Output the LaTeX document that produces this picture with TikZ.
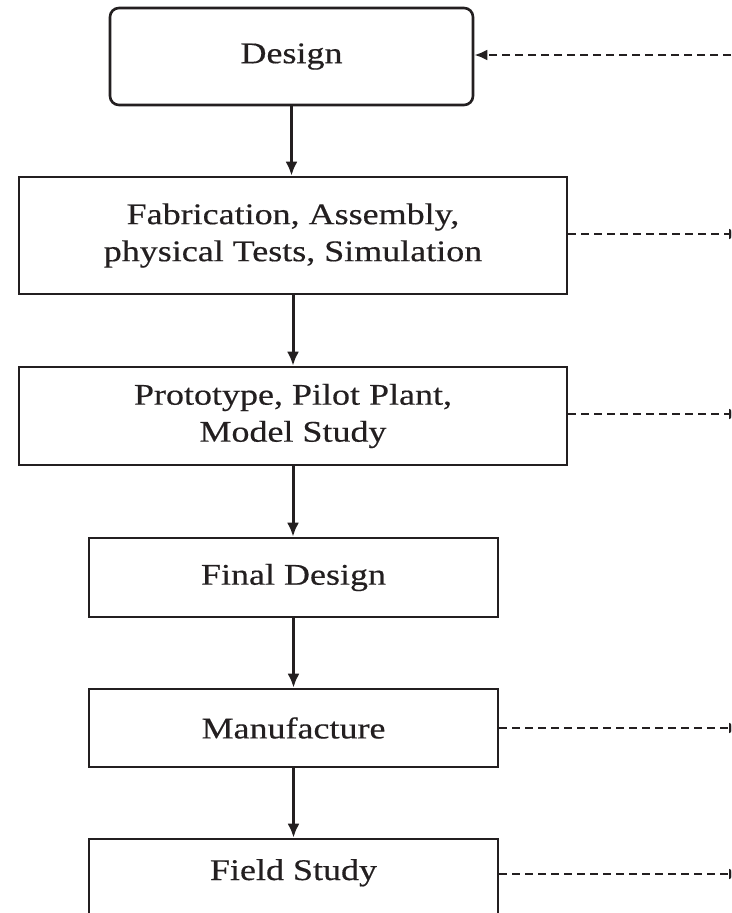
\documentclass[tikz,border=0pt]{standalone}
\usepackage{fontspec}
\setmainfont{Liberation Serif}[FakeStretch=1.2,FakeBold=0.4]
\usetikzlibrary{arrows.meta}
\definecolor{ink}{HTML}{231F20}
\begin{document}
\begin{tikzpicture}[x=1pt,y=-1pt,
  every node/.style={font=\fontsize{30}{37}\selectfont, text=ink, align=center},
  procbox/.style={draw=ink, line width=2.6pt, rectangle, inner sep=0pt},
  flow/.style={draw=ink, line width=3pt, -{Latex[length=14pt,width=12pt]}},
  feedback/.style={draw=ink, line width=2.8pt, dash pattern=on 8pt off 5pt, -{Latex[length=13pt,width=11pt]}}]
\path[use as bounding box, clip] (0,0) rectangle (731,913);
\fill[white] (0,0) rectangle (731,913);

\node[procbox, rounded corners=9pt, minimum width=363pt, minimum height=97pt] (design) at (291.5,56.5) {Design};
\node[procbox, minimum width=548pt, minimum height=117pt] (fab) at (293,235.5) {Fabrication, Assembly,\\physical Tests, Simulation};
\node[procbox, minimum width=548pt, minimum height=98pt] (proto) at (293,416) {Prototype, Pilot Plant,\\Model Study};
\node[procbox, minimum width=409pt, minimum height=79pt] (final) at (293.5,577.5) {Final Design};
\node[procbox, minimum width=409pt, minimum height=78pt] (manu) at (293.5,728) {Manufacture};
\node[procbox, minimum width=409pt, text height=20pt, text depth=100pt, inner ysep=21pt, anchor=base] (field) at (293.5,880) {Field Study};

\draw[flow] (design.south) -- (design.south |- fab.north);
\draw[flow] (fab.south) -- (fab.south |- proto.north);
\draw[flow] (proto.south) -- (proto.south |- final.north);
\draw[flow] (final.south) -- (final.south |- manu.north);
\draw[flow] (manu.south) -- (manu.south |- field.north);

\coordinate (r1) at (731,55);
\coordinate (r2) at (742,234);
\coordinate (r3) at (742,414);
\coordinate (r5) at (742,728);
\coordinate (r6) at (742,874);
\draw[feedback] (r1) -- (design.east |- r1);
\draw[feedback] (fab.east |- r2) -- (r2);
\draw[feedback] (proto.east |- r3) -- (r3);
\draw[feedback] (manu.east |- r5) -- (r5);
\draw[feedback] (field.east |- r6) -- (r6);
\end{tikzpicture}
\end{document}
